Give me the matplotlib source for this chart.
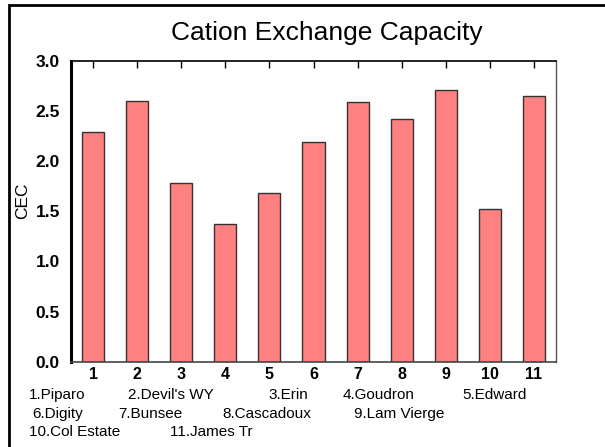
import numpy as np
import matplotlib.pyplot as plt
import matplotlib.patches as patches

plt.rcParams['font.family'] = ['Liberation Sans', 'DejaVu Sans']

# data
sites = ['1', '2', '3', '4', '5', '6', '7', '8', '9', '10', '11']
cec = [2.29, 2.60, 1.78, 1.37, 1.68, 2.19, 2.59, 2.42, 2.71, 1.52, 2.65]
names = ['1.Piparo', "2.Devil's WY", '3.Erin', '4.Goudron', '5.Edward',
         '6.Digity', '7.Bunsee', '8.Cascadoux', '9.Lam Vierge',
         '10.Col Estate', '11.James Tr']
yticks = [0.0, 0.5, 1.0, 1.5, 2.0, 2.5, 3.0]

W, H = 605, 447
fig = plt.figure(figsize=(W / 100, H / 100), dpi=100)
ax = fig.add_axes([71 / W, 1 - 361.7 / H, (556 - 71) / W, (361.7 - 60.7) / H])

x = np.arange(1, len(cec) + 1)
ax.bar(x, cec, width=0.5, color='#ff8080', edgecolor='#333333', linewidth=1.0)

ax.set_xlim(0.5, 11.5)
ax.set_ylim(0, 3.0)
ax.set_yticks(yticks)
ax.set_yticklabels(['%.1f' % v for v in yticks])
ax.set_xticks(x)
ax.set_xticklabels(sites)

ax.tick_params(axis='y', length=0, pad=8, labelsize=12.5)
ax.tick_params(axis='x', bottom=False, top=True, direction='in', length=5,
               width=1, pad=4, labelsize=11.5)
for lab in ax.get_xticklabels() + ax.get_yticklabels():
    lab.set_fontweight('bold')

ax.spines['left'].set_linewidth(2.2)
ax.spines['top'].set_linewidth(1.2)
ax.spines['bottom'].set_linewidth(1.2)
ax.spines['bottom'].set_color('#444444')
ax.spines['right'].set_linewidth(1.0)
ax.spines['right'].set_color('#555555')

fig.text(23 / W, 1 - 201 / H, 'CEC', rotation=90, ha='center', va='center', fontsize=12.5)
fig.text(327 / W, 1 - 33 / H, 'Cation Exchange Capacity', ha='center', va='center', fontsize=19)

# site name key under the axis
rows = [(395, [(29, 0), (128, 1), (268, 2), (343, 3), (462, 4)]),
        (414, [(32, 5), (118, 6), (222, 7), (354, 8)]),
        (432, [(29, 9), (170, 10)])]
for yy, items in rows:
    for xx, i in items:
        fig.text(xx / W, 1 - yy / H, names[i], ha='left', va='center', fontsize=11)

# outer frame
fig.patches.append(patches.Rectangle((9 / W, -0.2), 1.2, 1 - 4.5 / H + 0.2,
                                     transform=fig.transFigure, fill=False,
                                     edgecolor='black', linewidth=2))

fig.savefig('out.png', dpi=100)
